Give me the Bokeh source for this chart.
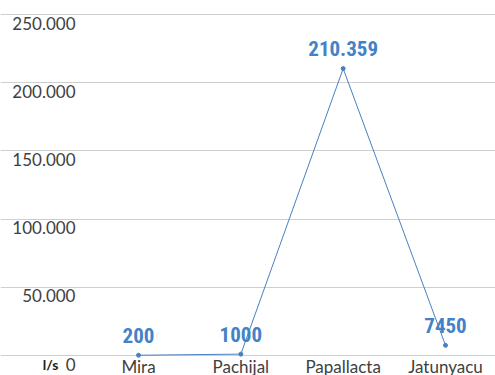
from bokeh.plotting import figure
from bokeh.models import ColumnDataSource, LabelSet, FixedTicker, Range1d
from bokeh.core.properties import value
from bokeh.embed import file_html
from bokeh.resources import INLINE

# Flow per station (l/s)
stations = ["Mira", "Pachijal", "Papallacta", "Jatunyacu"]
caudal = [200, 1000, 210359, 7450]
caudal_labels = ["200", "1000", "210.359", "7450"]
unit_label = "l/s"

# Value axis ticks, Spanish thousands separator
y_ticks = [0, 50000, 100000, 150000, 200000, 250000]
y_tick_labels = ["0", "50.000", "100.000", "150.000", "200.000", "250.000"]

LINE_BLUE = "#4a7fc0"
LABEL_BLUE = "#4382c6"
TEXT_GREY = "#404040"
TICK_FONT = "Lato"
VALUE_FONT = "'Roboto Condensed', 'DejaVu Sans Condensed', 'Liberation Sans Narrow', 'Roboto', sans-serif"

W, H = 495, 375
# Page geometry in pixels: where the first/last station and the
# zero/top gridlines fall, and where the gridlines start and end.
X_FIRST, X_LAST = 138, 445
GRID_LEFT, GRID_RIGHT = 82, 485
Y_ZERO, Y_TOP = 355, 14

idx = list(range(len(stations)))
px_x = (X_LAST - X_FIRST) / (len(idx) - 1)
px_y = (Y_ZERO - Y_TOP) / y_ticks[-1]
x_range = Range1d(-X_FIRST / px_x, idx[-1] + (W - X_LAST) / px_x)
y_range = Range1d(-(H - Y_ZERO) / px_y, y_ticks[-1] + Y_TOP / px_y)

src = ColumnDataSource(dict(x=idx, y=caudal, label=caudal_labels))
ysrc = ColumnDataSource(dict(y=y_ticks, label=y_tick_labels))
xsrc = ColumnDataSource(dict(x=idx, y=[0] * len(idx), label=stations))
usrc = ColumnDataSource(dict(y=[0], label=[unit_label]))

# The frame fills the whole page so every label sits inside it.
p = figure(width=W, height=H, output_backend="svg", toolbar_location=None,
           x_range=x_range, y_range=y_range,
           min_border_left=0, min_border_right=0,
           min_border_top=0, min_border_bottom=0)
p.outline_line_color = None
p.background_fill_color = "white"
p.border_fill_color = "white"
p.xaxis.visible = False
p.yaxis.visible = False

# Horizontal gridlines only
p.xgrid.visible = False
p.ygrid.ticker = FixedTicker(ticks=y_ticks)
p.ygrid.bounds = ((GRID_LEFT - X_FIRST) / px_x, idx[-1] + (GRID_RIGHT - X_LAST) / px_x)
p.ygrid.grid_line_color = "#cfcfcf"
p.ygrid.grid_line_width = 1

# Value-axis labels, set slightly below each gridline
ylabels = LabelSet(x=GRID_LEFT - 7, x_units="screen", y="y", text="label", source=ysrc,
                   text_align="right", text_baseline="alphabetic", y_offset=-15,
                   text_font=value(TICK_FONT), text_font_size=value("17px"),
                   text_color=TEXT_GREY)
p.add_layout(ylabels)

# Station names under the zero line
xlabels = LabelSet(x="x", y="y", text="label", source=xsrc,
                   text_align="center", text_baseline="alphabetic", y_offset=-17,
                   text_font=value(TICK_FONT), text_font_size=value("17px"),
                   text_color=TEXT_GREY)
p.add_layout(xlabels)

# Unit next to the zero label
unit = LabelSet(x=50, x_units="screen", y="y", text="label", source=usrc,
                text_align="center", text_baseline="alphabetic", y_offset=-14,
                text_font=value(TICK_FONT), text_font_style="bold",
                text_font_size=value("14px"), text_color="#222222")
p.add_layout(unit)

# Series
p.line("x", "y", source=src, line_color=LINE_BLUE, line_width=1)
p.scatter("x", "y", source=src, size=4, fill_color=LINE_BLUE, line_color=LINE_BLUE)

values = LabelSet(x="x", y="y", text="label", source=src, y_offset=20,
                  text_align="center", text_baseline="middle",
                  text_font=value(VALUE_FONT), text_font_style="bold",
                  text_font_size=value("21px"), text_color=LABEL_BLUE)
p.add_layout(values)

with open("out.html", "w") as f:
    f.write(file_html(p, INLINE))
